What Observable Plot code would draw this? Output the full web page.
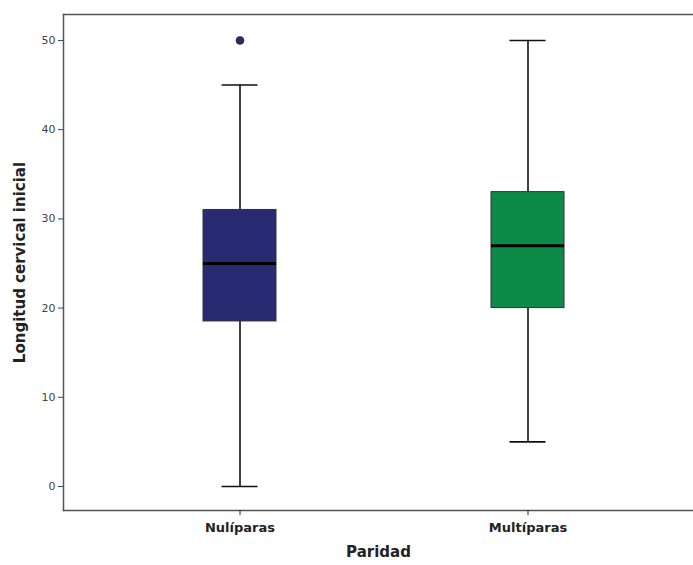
<!DOCTYPE html>
<html>
<head>
<meta charset="utf-8">
<script src="https://cdn.jsdelivr.net/npm/d3@7"></script>
<script src="https://cdn.jsdelivr.net/npm/@observablehq/plot@0.6"></script>
<style>
  html, body { margin: 0; padding: 0; background: #fff; }
  #chart svg { display: block; font-family: "DejaVu Sans", sans-serif; }
</style>
</head>
<body>
<div id="chart"></div>
<script>
const categories = ["Nulíparas", "Multíparas"];
const colors = ["#282a72", "#0e8a48"];
const whiskerLow = [0, 5];
const q1 = [18.5, 20];
const median = [25, 27];
const q3 = [31, 33];
const whiskerHigh = [45, 50];
const outlierCategory = ["Nulíparas"];
const outlierValue = [50];
const yTicks = [0, 10, 20, 30, 40, 50];

const boxes = categories.map((c, i) => ({
  cat: c, color: colors[i], lo: whiskerLow[i], q1: q1[i], med: median[i], q3: q3[i], hi: whiskerHigh[i]
}));
const outliers = outlierCategory.map((c, i) => ({cat: c, v: outlierValue[i], color: colors[categories.indexOf(c)]}));

const chart = Plot.plot({
  width: 693,
  height: 565,
  marginLeft: 63,
  marginRight: 0,
  marginTop: 14,
  marginBottom: 55,
  x: {type: "band", domain: categories, range: [63, 704], paddingInner: 0.7465, paddingOuter: 0.486, align: 0.5},
  y: {domain: [-2.69, 52.91]},
  marks: [
    Plot.frame({anchor: "top", stroke: "#555", strokeWidth: 1.5}),
    Plot.frame({anchor: "left", stroke: "#555", strokeWidth: 1.5}),
    Plot.frame({anchor: "bottom", stroke: "#555", strokeWidth: 1.5}),
    Plot.axisY({ticks: yTicks, tickSize: 5, tickPadding: 3, fontSize: 11, color: "#444", label: null}),
    Plot.axisX({tickSize: 5, tickPadding: 7, fontSize: 13, fontWeight: "bold", color: "#222", label: null}),
    Plot.ruleX(boxes, {x: "cat", y1: "lo", y2: "q1", stroke: "#111", strokeWidth: 1.6}),
    Plot.ruleX(boxes, {x: "cat", y1: "q3", y2: "hi", stroke: "#111", strokeWidth: 1.6}),
    Plot.tickY(boxes, {x: "cat", y: "lo", stroke: "#111", strokeWidth: 1.6, insetLeft: 18.5, insetRight: 18.5}),
    Plot.tickY(boxes, {x: "cat", y: "hi", stroke: "#111", strokeWidth: 1.6, insetLeft: 18.5, insetRight: 18.5}),
    Plot.barY(boxes, {x: "cat", y1: "q1", y2: "q3", fill: "color", stroke: "#333", strokeWidth: 1}),
    Plot.tickY(boxes, {x: "cat", y: "med", stroke: "#000", strokeWidth: 3}),
    Plot.dot(outliers, {x: "cat", y: "v", r: 4, fill: "color", stroke: "#222", strokeWidth: 0.5}),
    Plot.text(["Longitud cervical inicial"], {frameAnchor: "left", textAnchor: "middle", dx: -43, rotate: -90, fontSize: 15, fontWeight: "bold", fill: "#222"}),
    Plot.text(["Paridad"], {frameAnchor: "bottom", dy: 46, fontSize: 15, fontWeight: "bold", fill: "#222"})
  ]
});
document.getElementById("chart").appendChild(chart);
</script>
</body>
</html>
